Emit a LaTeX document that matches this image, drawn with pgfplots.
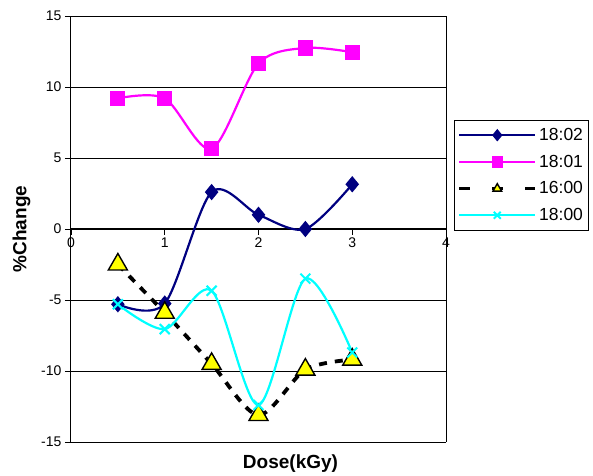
\documentclass[border=0pt]{standalone}
\usepackage{fontspec}
\setmainfont{Liberation Sans}
\usepackage{pgfplots}
\pgfplotsset{compat=1.18}
\definecolor{navy}{RGB}{0,0,128}
\definecolor{mag}{RGB}{255,0,255}
\definecolor{cyn}{RGB}{0,255,255}
\definecolor{yel}{RGB}{255,255,0}
\begin{document}
\begin{tikzpicture}
\begin{axis}[
  name=ax,
  scale only axis,
  width=375bp, height=426bp,
  xmin=0, xmax=4, ymin=-15, ymax=15,
  axis x line=middle,
  axis y line=box,
  x axis line style={-, line width=1bp},
  y axis line style={line width=1bp},
  xtick={0,1,2,3,4},
  ytick={-15,-10,-5,0,5,10,15},
  ytick pos=left,
  tick align=outside,
  major tick length=6bp,
  tick style={black, line width=0.8bp},
  hide obscured x ticks=false,
  ymajorgrids,
  grid style={black, line width=0.8bp},
  /pgf/number format/assume math mode=true,
  tick label style={font=\fontsize{14bp}{16bp}\selectfont},
  xticklabel style={yshift=1bp},
  xlabel={\textbf{Dose(kGy)}},
  ylabel={\textbf{\%Change}},
  label style={font=\fontsize{19bp}{21bp}\selectfont},
  xlabel style={at={(axis description cs:0.5,0)}, anchor=north, xshift=32bp, yshift=-9bp},
  ylabel style={at={(axis description cs:0,0.5)}, anchor=south, yshift=37bp},
  legend style={at={(axis description cs:1.0213,0.756)}, anchor=north west,
    draw=black, line width=0.8bp, font=\fontsize{17.5bp}{19bp}\selectfont,
    row sep=9bp, inner xsep=3bp, inner ysep=6bp},
  legend cell align=left,
  legend image code/.code={\draw[mark repeat=2,mark phase=2,every mark/.append style={scale=0.7}] plot coordinates {(0bp,0bp)(38bp,0bp)(76bp,0bp)};},
  smooth, tension=0.5,
  clip=false,
]
\addplot[navy, line width=2.2bp, mark=diamond*, mark size=6.5bp, mark options={xscale=1.1, fill=navy, solid}]
  coordinates {(0.5,-5.3) (1,-5.25) (1.5,2.6) (2,1.0) (2.5,0.0) (3,3.15)};
\addlegendentry{18:02}
\addplot[mag, line width=2.2bp, mark=square*, mark size=6.5bp, mark options={fill=mag, solid}]
  coordinates {(0.5,9.2) (1,9.2) (1.5,5.65) (2,11.65) (2.5,12.75) (3,12.45)};
\addlegendentry{18:01}
\addplot[black, line width=3.8bp, dash pattern=on 8bp off 8bp, mark=triangle*, mark size=11bp, mark options={fill=yel, draw=black, line width=1.4bp, solid},
  legend image code/.code={\draw[dash pattern=on 11bp off 22bp, mark repeat=2,mark phase=2,every mark/.append style={scale=0.45}] plot coordinates {(0bp,0bp)(38bp,0bp)(76bp,0bp)};}]
  coordinates {(0.5,-2.5) (1,-5.9) (1.5,-9.5) (2,-13.1) (2.5,-9.9) (3,-9.2)};
\addlegendentry{16:00}
\addplot[cyn, line width=2.2bp, mark=x, mark size=7bp, mark options={line width=2bp, solid}]
  coordinates {(0.5,-5.3) (1,-7.05) (1.5,-4.35) (2,-12.4) (2.5,-3.5) (3,-8.7)};
\addlegendentry{18:00}
\end{axis}
\path (ax.south west) ++(-71bp,-32bp) coordinate (bl);
\path (ax.north east) ++(147bp,16bp) coordinate (tr);
\useasboundingbox (bl) rectangle (tr);
\end{tikzpicture}
\end{document}
